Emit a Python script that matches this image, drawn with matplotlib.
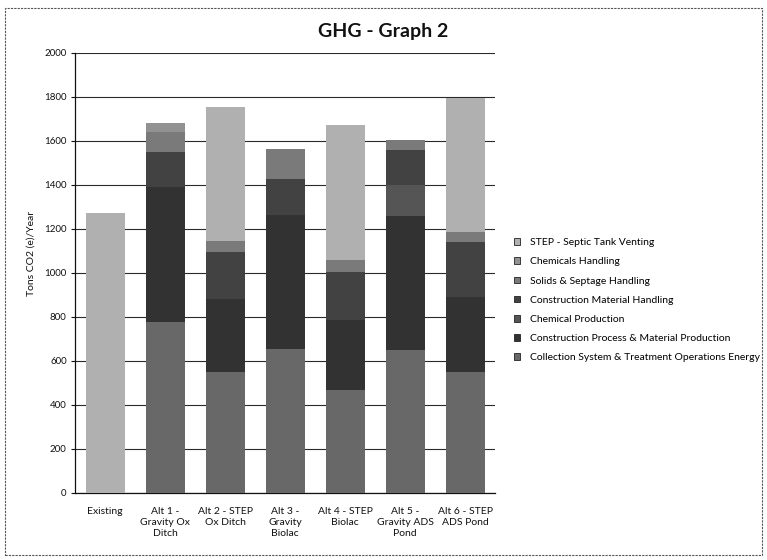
import matplotlib.pyplot as plt
import numpy as np
from matplotlib.patches import Rectangle

plt.rcParams['font.family'] = ['Lato', 'DejaVu Sans']

# ---------- data (Tons CO2(e)/Year) ----------
categories = ["Existing", "Alt 1 -\nGravity Ox\nDitch", "Alt 2 - STEP\nOx Ditch",
              "Alt 3 -\nGravity\nBiolac", "Alt 4 - STEP\nBiolac",
              "Alt 5 -\nGravity ADS\nPond", "Alt 6 - STEP\nADS Pond"]

# stacked bottom -> top
series_names = ["Collection System & Treatment Operations Energy",
                "Construction Process & Material Production",
                "Chemical Production",
                "Construction Material Handling",
                "Solids & Septage Handling",
                "Chemicals Handling",
                "STEP - Septic Tank Venting"]

collection      = [0, 777, 550, 656, 468, 650, 550]
constr_process  = [0, 614, 330, 606, 318, 608, 340]
chem_production = [0, 0, 0, 0, 0, 142, 0]
constr_material = [0, 159, 215, 167, 220, 158, 250]
solids          = [0, 90, 50, 136, 53, 45, 45]
chem_handling   = [0, 43, 0, 0, 0, 0, 0]
step_venting    = [1275, 0, 610, 0, 615, 0, 610]

series_values = [collection, constr_process, chem_production, constr_material,
                 solids, chem_handling, step_venting]
series_colors = ["#686868", "#323232", "#555555", "#424242",
                 "#7a7a7a", "#929292", "#b0b0b0"]

# ---------- figure ----------
fig = plt.figure(figsize=(7.67, 5.6), dpi=100)
ax = fig.add_axes([75/767, 1 - 493/560, 420/767, 440/560])

x = np.arange(len(categories))
bottom = np.zeros(len(categories))
handles = []
for name, vals, col in zip(series_names, series_values, series_colors):
    vals = np.array(vals, dtype=float)
    b = ax.bar(x, vals, width=0.65, bottom=bottom, color=col, label=name,
               edgecolor="none", zorder=3)
    bottom += vals
    handles.append(b)

ax.set_xlim(-0.5, len(categories) - 0.5)
ax.set_ylim(0, 2000)
ax.set_yticks(np.arange(0, 2001, 200))
ax.tick_params(axis="y", labelsize=7, length=3, width=0.8, pad=3, colors="#111")
ax.set_xticks(x)
ax.set_xticklabels(categories, fontsize=7.5, linespacing=1.3)
ax.tick_params(axis="x", length=0, pad=10, colors="#111")

ax.grid(axis="y", color="#2a2a2a", linewidth=0.8, zorder=0)
ax.set_axisbelow(True)
for s in ["top", "right"]:
    ax.spines[s].set_visible(False)
for s in ["left", "bottom"]:
    ax.spines[s].set_color("#111")
    ax.spines[s].set_linewidth(0.9)

ax.set_ylabel("Tons CO2 (e)/Year", fontsize=7.5, color="#111")
ax.yaxis.set_label_coords(-0.093, 0.545)

fig.text(383/767, 1 - 32/560, "GHG - Graph 2", ha="center", va="center",
         fontsize=14, fontweight="bold", color="#111")

leg = ax.legend(handles[::-1], series_names[::-1], loc="upper left",
                bbox_to_anchor=(510/767, 1 - 234/560), bbox_transform=fig.transFigure,
                frameon=False, fontsize=7.5, handlelength=0.6, handleheight=0.6,
                handletextpad=0.9, labelspacing=0.98, borderaxespad=0)
for h in leg.legend_handles:
    h.set_edgecolor("#222")
    h.set_linewidth(0.6)

# outer chart border
fig.patches.append(Rectangle((5/767, 1 - 555/560), 757/767, 547/560,
                             transform=fig.transFigure, fill=False,
                             edgecolor="#555", linewidth=0.8, linestyle=(0, (2, 1))))

fig.savefig("out.png", dpi=100)
